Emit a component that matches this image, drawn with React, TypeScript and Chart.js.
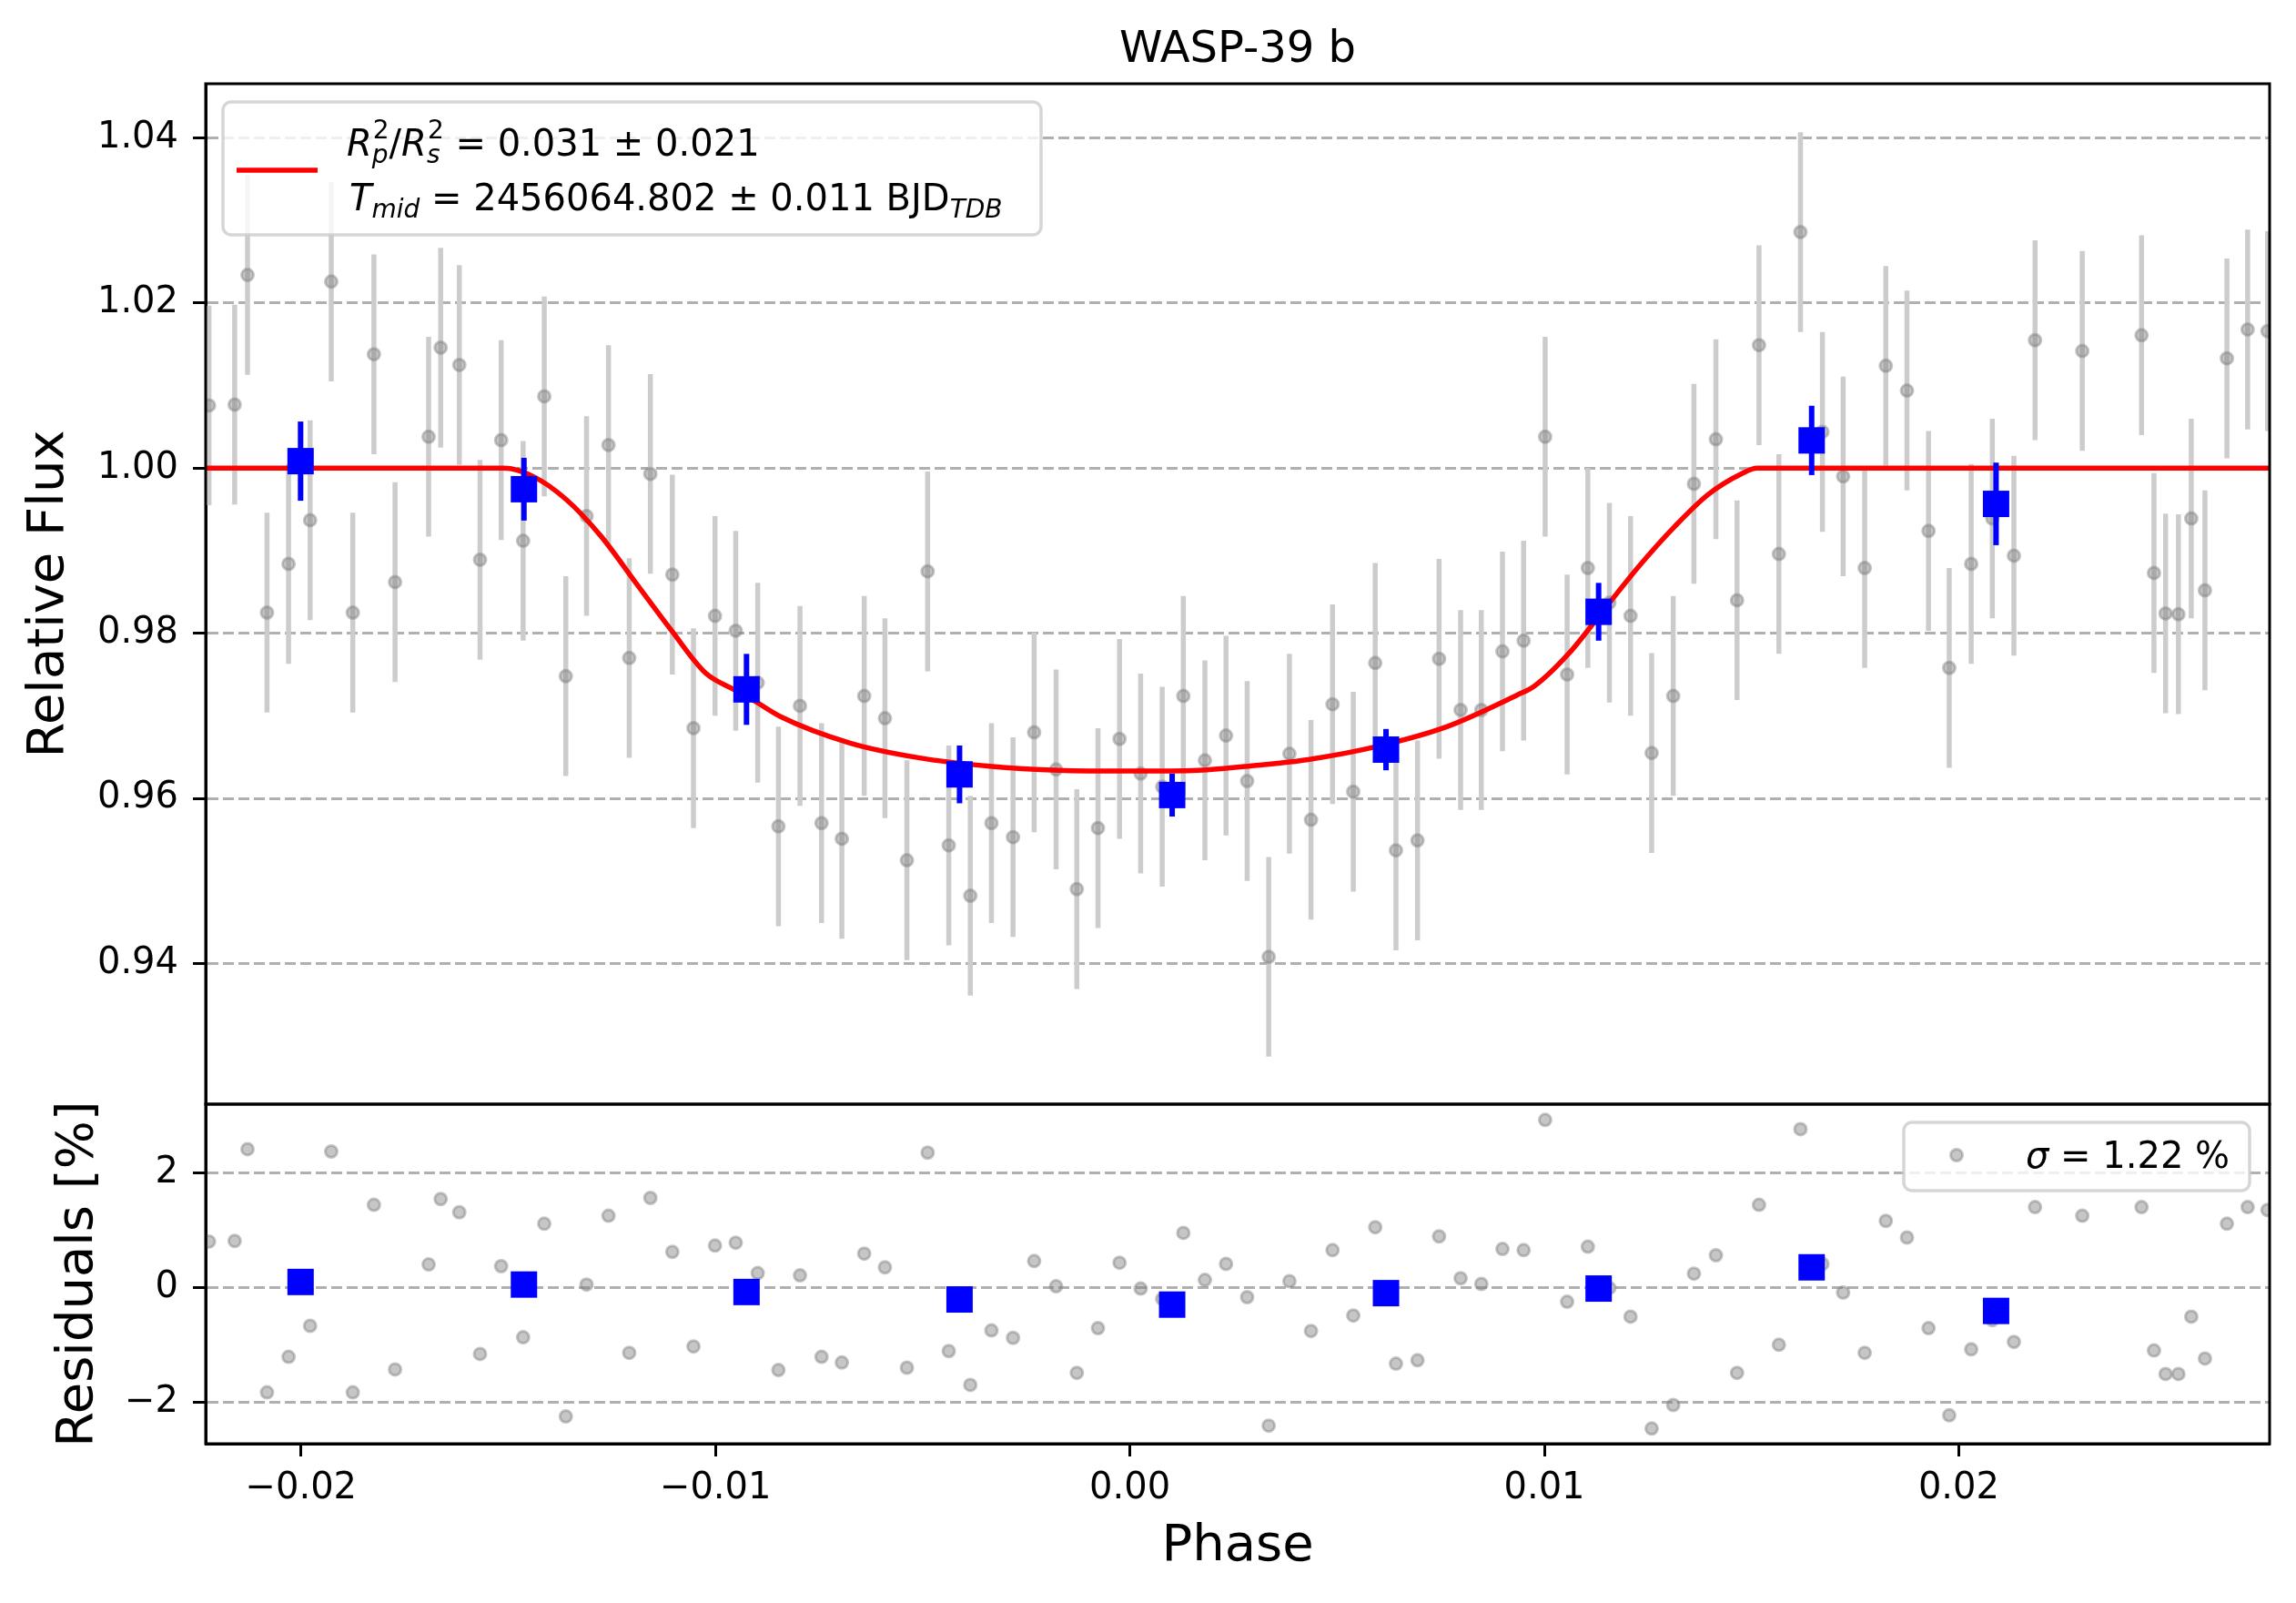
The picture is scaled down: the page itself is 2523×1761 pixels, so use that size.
import React, { useEffect, useRef } from "react";
import { Chart, registerables } from "chart.js";

Chart.register(...registerables);

const W = 2523;
const H = 1761;
const FONT = "'DejaVu Sans', 'Liberation Sans', sans-serif";

// ---------------- data ----------------
const PHASE = [
  -0.02222, -0.0216, -0.02129, -0.02082, -0.0203, -0.01978, -0.01927, -0.01875, -0.01824, -0.01773,
  -0.01692, -0.01663, -0.01618, -0.01568, -0.01517, -0.01464, -0.01413, -0.01361, -0.01311, -0.01258,
  -0.01208, -0.01157, -0.01104, -0.01053, -0.01001,
  -0.00951, -0.00898, -0.00848, -0.00796, -0.00744, -0.00695, -0.00641, -0.00591, -0.00538, -0.00488,
  -0.00437, -0.00385, -0.00334, -0.00282, -0.00231, -0.00178, -0.00128, -0.00077, -0.00025, 0.00026,
  0.00078, 0.00129, 0.00181, 0.00232, 0.00283,
  0.00335, 0.00385, 0.00437, 0.00489, 0.00539, 0.00592, 0.00642, 0.00694, 0.00746, 0.00798,
  0.00848, 0.00899, 0.0095, 0.01002, 0.01055, 0.01105, 0.01157, 0.01208, 0.01259, 0.01311,
  0.01361, 0.01414, 0.01465, 0.01518, 0.01566,
  0.01618, 0.01671, 0.01721, 0.01773, 0.01824, 0.01875, 0.01927, 0.01977, 0.0203, 0.02081,
  0.02133, 0.02184, 0.02298, 0.02441, 0.02471, 0.02499, 0.0253, 0.02561, 0.02594, 0.02647,
  0.02697, 0.02745,
];

const FLUX = [
  1.0076, 1.0077, 1.0234, 0.9825, 0.9884, 0.9937, 1.0226, 0.9825, 1.0138, 0.9862,
  1.0038, 1.0146, 1.0125, 0.9889, 1.0034, 0.9912, 1.0087, 0.9748, 0.9942, 1.0028,
  0.977, 0.9993, 0.9871, 0.9685, 0.9821,
  0.9803, 0.974, 0.9566, 0.9712, 0.957, 0.9551, 0.9724, 0.9697, 0.9525, 0.9875,
  0.9543, 0.9482, 0.957, 0.9553, 0.968, 0.9635, 0.949, 0.9564, 0.9672, 0.963,
  0.9614, 0.9724, 0.9646, 0.9676, 0.9621,
  0.9408, 0.9654, 0.9574, 0.9714, 0.9608, 0.9764, 0.9537, 0.9549, 0.9769, 0.9707,
  0.9707, 0.9778, 0.9791, 1.0038, 0.975, 0.9879, 0.9837, 0.9821, 0.9655, 0.9724,
  0.9981, 1.0035, 0.984, 1.0149, 0.9896,
  1.0286, 1.0044, 0.999, 0.9879, 1.0124, 1.0094, 0.9924, 0.9758, 0.9884, 0.9939,
  0.9894, 1.0155, 1.0142, 1.0161, 0.9873, 0.9824, 0.9823, 0.9939, 0.9852, 1.0133,
  1.0168, 1.0166,
];

const RESID = [
  0.8, 0.81, 2.41, -1.83, -1.21, -0.67, 2.37, -1.83, 1.44, -1.43,
  0.4, 1.54, 1.31, -1.16, 0.37, -0.87, 1.11, -2.25, 0.05, 1.25,
  -1.14, 1.56, 0.62, -1.03, 0.73,
  0.78, 0.25, -1.44, 0.21, -1.21, -1.31, 0.59, 0.35, -1.4, 2.35,
  -1.11, -1.7, -0.75, -0.88, 0.46, 0.02, -1.49, -0.71, 0.43, -0.02,
  -0.2, 0.95, 0.13, 0.41, -0.17,
  -2.41, 0.11, -0.76, 0.65, -0.49, 1.05, -1.33, -1.27, 0.89, 0.16,
  0.06, 0.67, 0.65, 2.92, -0.25, 0.71, -0.01, -0.51, -2.46, -2.05,
  0.24, 0.56, -1.49, 1.44, -1.0,
  2.76, 0.41, -0.09, -1.14, 1.16, 0.87, -0.71, -2.23, -1.08, -0.57,
  -0.95, 1.4, 1.25, 1.4, -1.1, -1.51, -1.51, -0.51, -1.24, 1.11,
  1.4, 1.35,
];

const FLUX_ERR = 0.0121;

const BIN_PHASE = [-0.02001, -0.01462, -0.00925, -0.00411, 0.00102, 0.00618, 0.01131, 0.01645, 0.0209];
const BIN_FLUX = [1.00085, 0.99745, 0.9732, 0.9629, 0.9604, 0.9659, 0.9826, 1.00336, 0.99567];
const BIN_ERR = [0.0048, 0.0038, 0.0043, 0.0035, 0.0026, 0.0025, 0.0035, 0.0042, 0.005];
const BIN_RESID = [0.095, 0.05, -0.08, -0.21, -0.3, -0.1, -0.02, 0.35, -0.41];

const MODEL_PHASE = [
  -0.0223, -0.0151, -0.0144, -0.0136, -0.01276, -0.01192, -0.01107, -0.01024, -0.0096, -0.00925,
  -0.00843, -0.00675, -0.00507, -0.00339, -0.00171, 0.0, 0.00165, 0.00306, 0.0043, 0.00598,
  0.00766, 0.00934, 0.00976, 0.0106, 0.01143, 0.01228, 0.01312, 0.01395, 0.01479, 0.01513, 0.0275,
];
const MODEL_FLUX = [
  1.0, 1.0, 0.999, 0.9962, 0.99175, 0.9861, 0.9804, 0.9752, 0.9733, 0.9724,
  0.9699, 0.9667, 0.9649, 0.9639, 0.9634, 0.9633, 0.9634, 0.964, 0.9647, 0.9663,
  0.9687, 0.9725, 0.9736, 0.9776, 0.9828, 0.9881, 0.9928, 0.9968, 0.9994, 1.0, 1.0,
];

const X_TICKS = [-0.02, -0.01, 0.0, 0.01, 0.02];
const X_TICK_LABELS = ["\u22120.02", "\u22120.01", "0.00", "0.01", "0.02"];
const Y_TICKS = [0.94, 0.96, 0.98, 1.0, 1.02, 1.04];
const Y_TICK_LABELS = ["0.94", "0.96", "0.98", "1.00", "1.02", "1.04"];
const R_TICKS = [-2, 0, 2];
const R_TICK_LABELS = ["\u22122", "0", "2"];

const TITLE = "WASP-39 b";
const X_LABEL = "Phase";
const Y_LABEL = "Relative Flux";
const R_LABEL = "Residuals [%]";
const SIGMA_TEXT = " = 1.22 %";

// ---------------- layout ----------------
const X_MIN = -0.0223;
const X_MAX = 0.0275;
const Y_MIN = 0.92295;
const Y_MAX = 1.04657;
const R_MIN = -2.725;
const R_MAX = 3.195;

const PLOT_LEFT = 226;
const PLOT_RIGHT = 2494;
const MAIN_TOP = 92;
const MAIN_BOTTOM = 1213;
const RES_BOTTOM = 1586;

const GRAY_FILL = "rgba(128,128,128,0.45)";
const ERR_GRAY = "#cccccc";
const GRID = "#b0b0b0";
const MARKER_R = 6.5;

type Run = { t?: string; size?: number; italic?: boolean; sup?: string; sub?: string; subItalic?: boolean };

function drawRuns(ctx: CanvasRenderingContext2D, x0: number, y: number, runs: Run[]) {
  let x = x0;
  ctx.textAlign = "left";
  ctx.textBaseline = "alphabetic";
  ctx.fillStyle = "#000";
  for (const r of runs) {
    if (r.t !== undefined) {
      ctx.font = `${r.italic ? "italic " : ""}${r.size || 40}px ${FONT}`;
      ctx.fillText(r.t, x, y);
      x += ctx.measureText(r.t).width;
    } else {
      let w = 0;
      if (r.sup) {
        ctx.font = `28px ${FONT}`;
        ctx.fillText(r.sup, x + 1, y - 19);
        w = Math.max(w, ctx.measureText(r.sup).width + 1);
      }
      if (r.sub) {
        ctx.font = `${r.subItalic ? "italic " : ""}28px ${FONT}`;
        ctx.fillText(r.sub, x, y + 8);
        w = Math.max(w, ctx.measureText(r.sub).width);
      }
      x += w;
    }
  }
}

function roundRect(ctx: CanvasRenderingContext2D, x: number, y: number, w: number, h: number, r: number) {
  ctx.beginPath();
  ctx.moveTo(x + r, y);
  ctx.lineTo(x + w - r, y);
  ctx.arcTo(x + w, y, x + w, y + r, r);
  ctx.lineTo(x + w, y + h - r);
  ctx.arcTo(x + w, y + h, x + w - r, y + h, r);
  ctx.lineTo(x + r, y + h);
  ctx.arcTo(x, y + h, x, y + h - r, r);
  ctx.lineTo(x, y + r);
  ctx.arcTo(x, y, x + r, y, r);
  ctx.closePath();
}

function drawGrayMarker(ctx: CanvasRenderingContext2D, x: number, y: number) {
  ctx.beginPath();
  ctx.arc(x, y, MARKER_R, 0, Math.PI * 2);
  ctx.fillStyle = GRAY_FILL;
  ctx.fill();
  ctx.lineWidth = 3;
  ctx.strokeStyle = GRAY_FILL;
  ctx.stroke();
}

function drawFrame(chart: any) {
  const { ctx, chartArea: a } = chart;
  ctx.save();
  ctx.strokeStyle = "#000";
  ctx.lineWidth = 3;
  ctx.strokeRect(a.left, a.top, a.right - a.left, a.bottom - a.top);
  ctx.restore();
}

const mainPlugin = {
  id: "mainDecor",
  beforeDatasetsDraw(chart: any) {
    const { ctx, chartArea: a } = chart;
    const xs = chart.scales.x;
    const ys = chart.scales.y;
    ctx.save();
    ctx.beginPath();
    ctx.rect(a.left, a.top, a.right - a.left, a.bottom - a.top);
    ctx.clip();
    ctx.strokeStyle = ERR_GRAY;
    ctx.lineWidth = 5.5;
    for (let i = 0; i < PHASE.length; i++) {
      const px = xs.getPixelForValue(PHASE[i]);
      ctx.beginPath();
      ctx.moveTo(px, ys.getPixelForValue(FLUX[i] - FLUX_ERR));
      ctx.lineTo(px, ys.getPixelForValue(FLUX[i] + FLUX_ERR));
      ctx.stroke();
    }
    ctx.restore();
  },
  afterDatasetsDraw(chart: any) {
    const { ctx } = chart;
    const xs = chart.scales.x;
    const ys = chart.scales.y;
    ctx.save();
    ctx.strokeStyle = "#0000ff";
    ctx.lineWidth = 6;
    for (let i = 0; i < BIN_PHASE.length; i++) {
      const px = xs.getPixelForValue(BIN_PHASE[i]);
      ctx.beginPath();
      ctx.moveTo(px, ys.getPixelForValue(BIN_FLUX[i] - BIN_ERR[i]));
      ctx.lineTo(px, ys.getPixelForValue(BIN_FLUX[i] + BIN_ERR[i]));
      ctx.stroke();
    }
    ctx.restore();
    drawFrame(chart);

    // title
    ctx.save();
    ctx.fillStyle = "#000";
    ctx.font = `48px ${FONT}`;
    ctx.textAlign = "center";
    ctx.textBaseline = "alphabetic";
    ctx.fillText(TITLE, (PLOT_LEFT + PLOT_RIGHT) / 2, 68);
    ctx.restore();

    // legend
    ctx.save();
    roundRect(ctx, 245, 112, 899, 146, 9);
    ctx.fillStyle = "rgba(255,255,255,0.8)";
    ctx.fill();
    ctx.lineWidth = 3.5;
    ctx.strokeStyle = "rgba(204,204,204,0.8)";
    ctx.stroke();
    ctx.strokeStyle = "#ff0000";
    ctx.lineWidth = 5.5;
    ctx.beginPath();
    ctx.moveTo(260, 187);
    ctx.lineTo(349, 187);
    ctx.stroke();
    drawRuns(ctx, 381, 171, [
      { t: "R", italic: true },
      { sup: "2", sub: "p", subItalic: true },
      { t: "/" },
      { t: "R", italic: true },
      { sup: "2", sub: "s", subItalic: true },
      { t: " = 0.031 \u00b1 0.021" },
    ]);
    drawRuns(ctx, 384, 231, [
      { t: "T", italic: true },
      { sub: "mid", subItalic: true },
      { t: " = 2456064.802 \u00b1 0.011 BJD" },
      { sub: "TDB", subItalic: true },
    ]);
    ctx.restore();
  },
};

const resPlugin = {
  id: "resDecor",
  afterDatasetsDraw(chart: any) {
    const { ctx } = chart;
    drawFrame(chart);
    ctx.save();
    roundRect(ctx, 2092, 1233, 380, 75, 9);
    ctx.fillStyle = "rgba(255,255,255,0.8)";
    ctx.fill();
    ctx.lineWidth = 3.5;
    ctx.strokeStyle = "rgba(204,204,204,0.8)";
    ctx.stroke();
    drawGrayMarker(ctx, 2150, 1269);
    drawRuns(ctx, 2226, 1283, [{ t: "\u03c3", italic: true }, { t: SIGMA_TEXT }]);
    ctx.restore();
  },
};

function yAxis(min: number, max: number, ticks: number[], labels: string[], title: string, titlePad: number) {
  return {
    type: "linear",
    position: "left",
    min,
    max,
    afterFit: (s: any) => {
      s.width = PLOT_LEFT;
    },
    afterBuildTicks: (s: any) => {
      s.ticks = ticks.map((v) => ({ value: v }));
    },
    ticks: {
      autoSkip: false,
      padding: 16,
      color: "#000",
      font: { family: FONT, size: 40 },
      callback: (_v: any, i: number) => labels[i],
    },
    grid: {
      display: true,
      drawOnChartArea: true,
      drawTicks: true,
      color: GRID,
      lineWidth: 3,
      tickLength: 14,
      tickColor: "#000",
      tickWidth: 3,
      tickBorderDash: [],
    },
    border: { display: true, color: "#000", width: 3, dash: [12, 5] },
    title: {
      display: true,
      text: title,
      color: "#000",
      font: { family: FONT, size: 56 },
      padding: { top: titlePad, bottom: 0 },
    },
  };
}

export default function App() {
  const mainRef = useRef<HTMLCanvasElement>(null);
  const resRef = useRef<HTMLCanvasElement>(null);

  useEffect(() => {
    const main = new Chart(mainRef.current as HTMLCanvasElement, {
      type: "scatter",
      data: {
        datasets: [
          {
            label: "binned",
            data: BIN_PHASE.map((x, i) => ({ x, y: BIN_FLUX[i] })),
            pointStyle: "rect",
            pointRadius: 20.5,
            pointBackgroundColor: "#0000ff",
            pointBorderWidth: 0,
            order: 1,
          },
          {
            label: "model",
            type: "line",
            data: MODEL_PHASE.map((x, i) => ({ x, y: MODEL_FLUX[i] })),
            borderColor: "#ff0000",
            borderWidth: 5.5,
            pointRadius: 0,
            cubicInterpolationMode: "monotone",
            fill: false,
            order: 2,
          },
          {
            label: "data",
            data: PHASE.map((x, i) => ({ x, y: FLUX[i] })),
            pointRadius: MARKER_R,
            pointBackgroundColor: GRAY_FILL,
            pointBorderColor: GRAY_FILL,
            pointBorderWidth: 3,
            order: 3,
          },
        ],
      } as any,
      options: {
        animation: false,
        responsive: false,
        devicePixelRatio: 1,
        events: [],
        layout: { padding: { left: 0, top: MAIN_TOP, right: W - PLOT_RIGHT, bottom: H - MAIN_BOTTOM } },
        plugins: { legend: { display: false }, tooltip: { enabled: false }, title: { display: false } },
        scales: {
          x: { type: "linear", display: false, min: X_MIN, max: X_MAX },
          y: yAxis(Y_MIN, Y_MAX, Y_TICKS, Y_TICK_LABELS, Y_LABEL, 21),
        },
      } as any,
      plugins: [mainPlugin],
    });

    const res = new Chart(resRef.current as HTMLCanvasElement, {
      type: "scatter",
      data: {
        datasets: [
          {
            label: "binned",
            data: BIN_PHASE.map((x, i) => ({ x, y: BIN_RESID[i] })),
            pointStyle: "rect",
            pointRadius: 20.5,
            pointBackgroundColor: "#0000ff",
            pointBorderWidth: 0,
            order: 1,
          },
          {
            label: "resid",
            data: PHASE.map((x, i) => ({ x, y: RESID[i] })),
            pointRadius: MARKER_R,
            pointBackgroundColor: GRAY_FILL,
            pointBorderColor: GRAY_FILL,
            pointBorderWidth: 3,
            order: 2,
          },
        ],
      } as any,
      options: {
        animation: false,
        responsive: false,
        devicePixelRatio: 1,
        events: [],
        layout: { padding: { left: 0, top: MAIN_BOTTOM, right: W - PLOT_RIGHT, bottom: 0 } },
        plugins: { legend: { display: false }, tooltip: { enabled: false }, title: { display: false } },
        scales: {
          x: {
            type: "linear",
            position: "bottom",
            min: X_MIN,
            max: X_MAX,
            afterFit: (s: any) => {
              s.height = H - RES_BOTTOM;
            },
            afterBuildTicks: (s: any) => {
              s.ticks = X_TICKS.map((v) => ({ value: v }));
            },
            ticks: {
              autoSkip: false,
              maxRotation: 0,
              padding: 12,
              color: "#000",
              font: { family: FONT, size: 40 },
              callback: (_v: any, i: number) => X_TICK_LABELS[i],
            },
            grid: {
              display: true,
              drawOnChartArea: false,
              drawTicks: true,
              tickLength: 14,
              tickColor: "#000",
              tickWidth: 3,
              color: GRID,
            },
            border: { display: true, color: "#000", width: 3 },
            title: {
              display: true,
              text: X_LABEL,
              color: "#000",
              font: { family: FONT, size: 56 },
              padding: { top: 0, bottom: 28 },
            },
          },
          y: yAxis(R_MIN, R_MAX, R_TICKS, R_TICK_LABELS, R_LABEL, 53),
        },
      } as any,
      plugins: [resPlugin],
    });

    return () => {
      main.destroy();
      res.destroy();
    };
  }, []);

  return (
    <div style={{ position: "fixed", left: 0, top: 0, width: W, height: H, background: "#fff", overflow: "hidden" }}>
      <canvas ref={resRef} width={W} height={H} style={{ position: "absolute", left: 0, top: 0 }} />
      <canvas ref={mainRef} width={W} height={H} style={{ position: "absolute", left: 0, top: 0 }} />
    </div>
  );
}
